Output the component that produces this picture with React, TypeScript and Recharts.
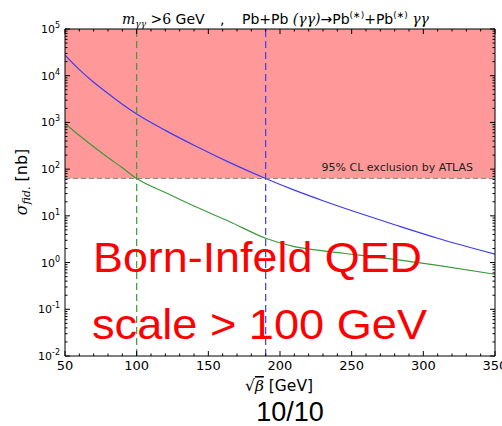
import React from 'react';
import { ComposedChart, Line, XAxis, YAxis, ReferenceArea, ReferenceLine } from 'recharts';

// sqrt(beta) [GeV]
const sqrtBeta = [50, 60, 70, 80, 90, 100, 120, 140, 165, 190, 210, 230, 255, 280, 310, 350];
// sigma_fid [nb], blue curve
const sigmaBlue = [27540, 13490, 7240, 4170, 2450, 1510, 676, 324, 138, 63.1, 35.5, 21.1, 11.5, 6.46, 3.31, 1.51];
// sigma_fid [nb], green curve
const sigmaGreen = [955, 525, 302, 178, 107, 63.1, 31.6, 16.2, 7.5, 3.31, 2.19, 1.78, 1.45, 1.17, 0.871, 0.562];

const xMajorTicks = [50, 100, 150, 200, 250, 300, 350];
const xAllTicks = [50, 60, 70, 80, 90, 100, 110, 120, 130, 140, 150, 160, 170, 180, 190, 200, 210, 220, 230, 240, 250, 260, 270, 280, 290, 300, 310, 320, 330, 340, 350];
const yMajorTicks = [0.01, 0.1, 1, 10, 100, 1000, 10000, 100000];
const yExponents = ['-2', '-1', '0', '1', '2', '3', '4', '5'];
const yMinorMultipliers = [2, 3, 4, 5, 6, 7, 8, 9];

const exclusionLimit = 63;
const greenLimit = 100;
const blueLimit = 190;

const BLUE = '#3b3bf0';
const GREEN = '#3a9a3a';
const SANS = '"DejaVu Sans", sans-serif';
const SERIF = '"DejaVu Serif", serif';

const data = sqrtBeta.map((x, i) => ({ x, blue: sigmaBlue[i], green: sigmaGreen[i] }));

const yAllTicks: number[] = [];
yMajorTicks.forEach((m, i) => {
  yAllTicks.push(m);
  if (i < yMajorTicks.length - 1) {
    yMinorMultipliers.forEach((k) => yAllTicks.push(Number((m * k).toPrecision(3))));
  }
});

const majorIndexY = (v: number) => yMajorTicks.findIndex((m) => Math.abs(Math.log10(v) - Math.log10(m)) < 1e-6);

const XTickBottom = (props: any) => {
  const { x, y, payload } = props;
  const v = payload.value;
  const major = xMajorTicks.includes(v);
  return (
    <g>
      <line x1={x} x2={x} y1={y} y2={y - (major ? 5 : 2.5)} stroke="#000" strokeWidth={1} />
      {major && (
        <text x={x} y={y + 14} textAnchor="middle" fontSize={13} fontFamily={SANS} fill="#000">
          {v}
        </text>
      )}
    </g>
  );
};

const XTickTop = (props: any) => {
  const { x, y, payload } = props;
  const major = xMajorTicks.includes(payload.value);
  return <line x1={x} x2={x} y1={y} y2={y + (major ? 5 : 2.5)} stroke="#000" strokeWidth={1} />;
};

const YTickLeft = (props: any) => {
  const { x, y, payload } = props;
  const idx = majorIndexY(payload.value);
  const major = idx >= 0;
  return (
    <g>
      <line x1={x} x2={x + (major ? 5 : 2.5)} y1={y} y2={y} stroke="#000" strokeWidth={1} />
      {major && (
        <text x={x - 5} y={y + 4} textAnchor="end" fontSize={11} fontFamily={SANS} fill="#000">
          10
          <tspan dy={-5} fontSize={8}>
            {yExponents[idx]}
          </tspan>
        </text>
      )}
    </g>
  );
};

const YTickRight = (props: any) => {
  const { x, y, payload } = props;
  const major = majorIndexY(payload.value) >= 0;
  return <line x1={x} x2={x - (major ? 5 : 2.5)} y1={y} y2={y} stroke="#000" strokeWidth={1} />;
};

export default function App() {
  return (
    <div style={{ position: 'absolute', left: 0, top: 0, width: 502, height: 426, background: '#fff' }}>
      <ComposedChart width={502} height={426} data={data} margin={{ top: 24, right: 2, bottom: 50, left: 25 }}>
        <XAxis
          xAxisId="b"
          dataKey="x"
          type="number"
          domain={[50, 350]}
          ticks={xAllTicks}
          interval={0}
          height={20}
          tickSize={0}
          tickMargin={0}
          tickLine={false}
          axisLine={{ stroke: '#000' }}
          tick={XTickBottom}
          allowDataOverflow
        />
        <XAxis
          xAxisId="t"
          orientation="top"
          dataKey="x"
          type="number"
          domain={[50, 350]}
          ticks={xAllTicks}
          interval={0}
          height={5}
          tickSize={0}
          tickMargin={0}
          tickLine={false}
          axisLine={{ stroke: '#000' }}
          tick={XTickTop}
          allowDataOverflow
        />
        <YAxis
          yAxisId="l"
          type="number"
          scale="log"
          domain={[0.01, 100000]}
          ticks={yAllTicks}
          interval={0}
          width={40}
          tickSize={0}
          tickMargin={0}
          tickLine={false}
          axisLine={{ stroke: '#000' }}
          tick={YTickLeft}
          allowDataOverflow
        />
        <YAxis
          yAxisId="r"
          orientation="right"
          type="number"
          scale="log"
          domain={[0.01, 100000]}
          ticks={yAllTicks}
          interval={0}
          width={5}
          tickSize={0}
          tickMargin={0}
          tickLine={false}
          axisLine={{ stroke: '#000' }}
          tick={YTickRight}
          allowDataOverflow
        />
        <ReferenceArea
          xAxisId="b"
          yAxisId="l"
          x1={50}
          x2={350}
          y1={exclusionLimit}
          y2={100000}
          fill="#ff9999"
          fillOpacity={1}
          stroke="none"
        />
        <Line
          xAxisId="b"
          yAxisId="l"
          dataKey="blue"
          type="monotone"
          stroke={BLUE}
          strokeWidth={1.2}
          dot={false}
          activeDot={false}
          isAnimationActive={false}
        />
        <Line
          xAxisId="b"
          yAxisId="l"
          dataKey="green"
          type="monotone"
          stroke={GREEN}
          strokeWidth={1.2}
          dot={false}
          activeDot={false}
          isAnimationActive={false}
        />
        <ReferenceLine xAxisId="b" yAxisId="l" y={exclusionLimit} stroke="#888" strokeWidth={1.2} strokeDasharray="5 3" />
        <ReferenceLine xAxisId="b" yAxisId="l" x={greenLimit} stroke={GREEN} strokeWidth={1.2} strokeDasharray="7 4" />
        <ReferenceLine xAxisId="b" yAxisId="l" x={blueLimit} stroke={BLUE} strokeWidth={1.2} strokeDasharray="7 4" />
      </ComposedChart>
      <svg width={502} height={426} style={{ position: 'absolute', left: 0, top: 0, pointerEvents: 'none' }}>
        <text x={122} y={24} fontSize={14} fontFamily={SANS} fill="#000">
          <tspan fontFamily={SERIF} fontStyle="italic">m</tspan>
          <tspan fontFamily={SERIF} fontStyle="italic" fontSize={9} dy={3}>γγ</tspan>
          <tspan dy={-3} fontFamily={SERIF}>{' >'}6</tspan>
          <tspan> GeV</tspan>
        </text>
        <text x={220} y={24} fontSize={14} fontFamily={SANS} fill="#000">,</text>
        <text x={242} y={24} fontSize={14} fontFamily={SANS} fill="#000">
          <tspan>Pb+Pb </tspan>
          <tspan fontFamily={SERIF} fontStyle="italic">(γγ)</tspan>
          <tspan>→Pb</tspan>
          <tspan fontSize={9} dy={-6}>(∗)</tspan>
          <tspan dy={6}>+Pb</tspan>
          <tspan fontSize={9} dy={-6}>(∗)</tspan>
          <tspan dy={6} fontFamily={SERIF} fontStyle="italic">{'  γγ'}</tspan>
        </text>
        <text x={473} y={171} textAnchor="end" fontSize={11} fontFamily={SANS} fill="#222">
          95% CL exclusion by ATLAS
        </text>
        <text x={93} y={272} fontSize={43} fontFamily='"Liberation Sans", Arial, sans-serif' fill="#ff0000" textLength={329} lengthAdjust="spacingAndGlyphs">
          Born-Infeld QED
        </text>
        <text x={92} y={339} fontSize={43} fontFamily='"Liberation Sans", Arial, sans-serif' fill="#ff0000" textLength={335} lengthAdjust="spacingAndGlyphs">
          scale &gt; 100 GeV
        </text>
        <text x={245} y={391} fontSize={15.5} fontFamily={SANS} fill="#000">
          <tspan>√</tspan>
          <tspan fontFamily={SERIF} fontStyle="italic" style={{ textDecoration: 'overline' }}>β</tspan>
          <tspan> [GeV]</tspan>
        </text>
        <text x={290} y={421} textAnchor="middle" fontSize={27} fontFamily='"Liberation Sans", Arial, sans-serif' fill="#000">
          10/10
        </text>
        <text transform="translate(27,182) rotate(-90)" textAnchor="middle" fontSize={16} fontFamily={SANS} fill="#000">
          <tspan fontFamily={SERIF} fontStyle="italic">σ</tspan>
          <tspan fontFamily={SERIF} fontStyle="italic" fontSize={11} dy={3}>fid.</tspan>
          <tspan dy={-3}> [nb]</tspan>
        </text>
      </svg>
    </div>
  );
}
